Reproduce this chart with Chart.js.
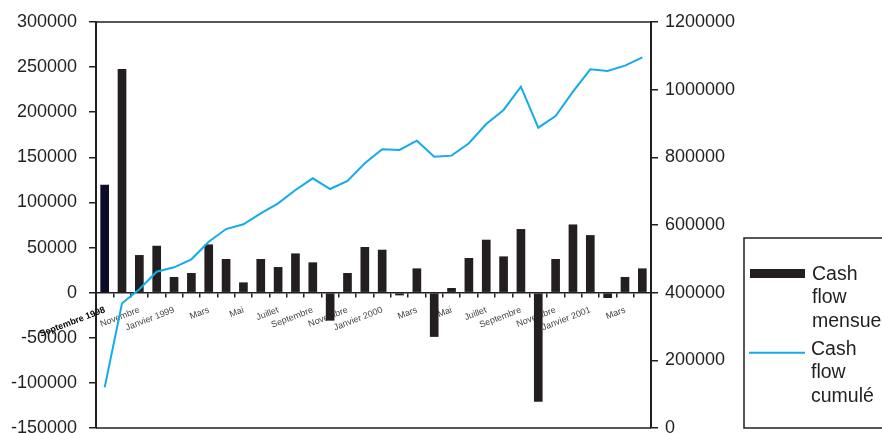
<!DOCTYPE html>
<html><head><meta charset="utf-8">
<script src="https://cdn.jsdelivr.net/npm/chart.js@4/dist/chart.umd.min.js"></script>
<style>html,body{margin:0;padding:0;background:#fff;}#wrap{width:882px;height:433px;position:relative;}</style>
</head><body><div id="wrap"><canvas id="c"></canvas></div>
<script>
const months = ["Septembre 1998","Octobre","Novembre","Décembre","Janvier 1999","Février","Mars","Avril","Mai","Juin","Juillet","Août","Septembre","Octobre","Novembre","Décembre","Janvier 2000","Février","Mars","Avril","Mai","Juin","Juillet","Août","Septembre","Octobre","Novembre","Décembre","Janvier 2001","Février","Mars","Avril"];
const monthlyCashFlow = [119500,248000,41700,52000,17400,21800,53500,37300,11400,37300,28400,43500,33600,-31000,21800,50600,47600,-3000,26900,-49000,5200,38400,58700,40200,70500,-121000,37300,75600,63800,-5900,17400,26900];
const cumulativeCashFlow = [120000,368600,410000,462000,475000,498600,550700,588000,602000,634500,664000,703400,738000,706400,730000,782300,823700,822000,849200,802000,805000,841500,898500,940000,1008800,887600,922000,994000,1060000,1055000,1071000,1095700];
const seriesNames = ["Cash flow mensuel","Cash flow cumulé"];
const leftTicks = {min:-150000, max:300000, step:50000};
const rightTicks = {min:0, max:1200000, step:200000};

const INK = '#231f20';
const FONT = '"Liberation Sans", Arial, sans-serif';

const framePlugin = {
  id:'frame',
  beforeDatasetsDraw(chart){
    const {ctx, chartArea:a} = chart;
    ctx.save(); ctx.strokeStyle = INK; ctx.lineWidth = 1.5;
    ctx.beginPath(); ctx.moveTo(a.left, a.top); ctx.lineTo(a.right, a.top);
    ctx.moveTo(a.left, a.bottom); ctx.lineTo(a.right, a.bottom); ctx.stroke();
    ctx.restore();
  }
};

const legendPlugin = {
  id:'boxLegend',
  afterDraw(chart){
    const ctx = chart.ctx;
    ctx.save();
    ctx.strokeStyle = INK; ctx.lineWidth = 1.5;
    ctx.strokeRect(744, 238, 160, 190);
    ctx.font = '19.5px ' + FONT; ctx.fillStyle = INK; ctx.textBaseline = 'alphabetic';
    const ds = chart.data.datasets;
    ctx.fillStyle = INK; ctx.fillRect(750, 269, 55, 9);
    let words = ds[0].label.split(' ');
    words.forEach((w,i)=>{ ctx.fillText(w, 812, 280 + i*23.3); });
    ctx.strokeStyle = ds[1].borderColor; ctx.lineWidth = 2;
    ctx.beginPath(); ctx.moveTo(749, 352.7); ctx.lineTo(805, 352.7); ctx.stroke();
    words = ds[1].label.split(' ');
    words.forEach((w,i)=>{ ctx.fillText(w, 811, 355 + i*23.3); });
    ctx.restore();
  }
};

new Chart(document.getElementById('c'), {
  data:{
    labels: months,
    datasets:[
      { type:'bar', label: seriesNames[0], data: monthlyCashFlow, yAxisID:'y', order:1,
        backgroundColor: (c)=> c.dataIndex===0 ? '#0c0c2a' : INK,
        barPercentage:0.5, categoryPercentage:1.0 },
      { type:'line', label: seriesNames[1], data: cumulativeCashFlow, yAxisID:'y1', order:0,
        borderColor:'#13ace8', borderWidth:2, pointRadius:0, tension:0, fill:false }
    ]
  },
  options:{
    responsive:true, maintainAspectRatio:false, animation:false,
    layout:{ padding:{ top:22, bottom:5, left:0, right:0 } },
    plugins:{ legend:{display:false}, tooltip:{enabled:false} },
    scales:{
      x:{
        position:{ y:0 },
        offset:true,
        grid:{ display:true, drawOnChartArea:false, drawTicks:true, tickLength:4, color:INK, lineWidth:1.5, offset:true },
        border:{ display:true, color:INK, width:1.5 },
        ticks:{
          autoSkip:false, minRotation:21, maxRotation:21, padding:8,
          callback:function(v, i){ return i % 2 === 0 ? this.getLabelForValue(v) : ''; },
          color:(c)=> c.index===0 ? '#000' : '#444',
          font:(c)=> c.index===0 ? {family:FONT, size:9, weight:'bold'} : {family:FONT, size:9}
        },
        afterFit(s){ s.height = 0; s.paddingLeft = 0; s.paddingRight = 0; }
      },
      y:{
        position:'left', min:leftTicks.min, max:leftTicks.max,
        grid:{ drawOnChartArea:false, drawTicks:true, tickLength:7, color:INK, lineWidth:1.5 },
        border:{ display:true, color:INK, width:2 },
        ticks:{ stepSize:leftTicks.step, color:INK, padding:12, font:{family:FONT, size:18},
          callback:(v)=> String(v) },
        afterFit(s){ s.width = 96; s.paddingTop = 0; s.paddingBottom = 0; }
      },
      y1:{
        position:'right', min:rightTicks.min, max:rightTicks.max,
        grid:{ drawOnChartArea:false, drawTicks:true, tickLength:7, color:INK, lineWidth:1.5 },
        border:{ display:true, color:INK, width:2 },
        ticks:{ stepSize:rightTicks.step, color:INK, padding:7, font:{family:FONT, size:18},
          callback:(v)=> String(v) },
        afterFit(s){ s.width = 231; s.paddingTop = 0; s.paddingBottom = 0; }
      }
    }
  },
  plugins:[framePlugin, legendPlugin]
});
</script></body></html>
